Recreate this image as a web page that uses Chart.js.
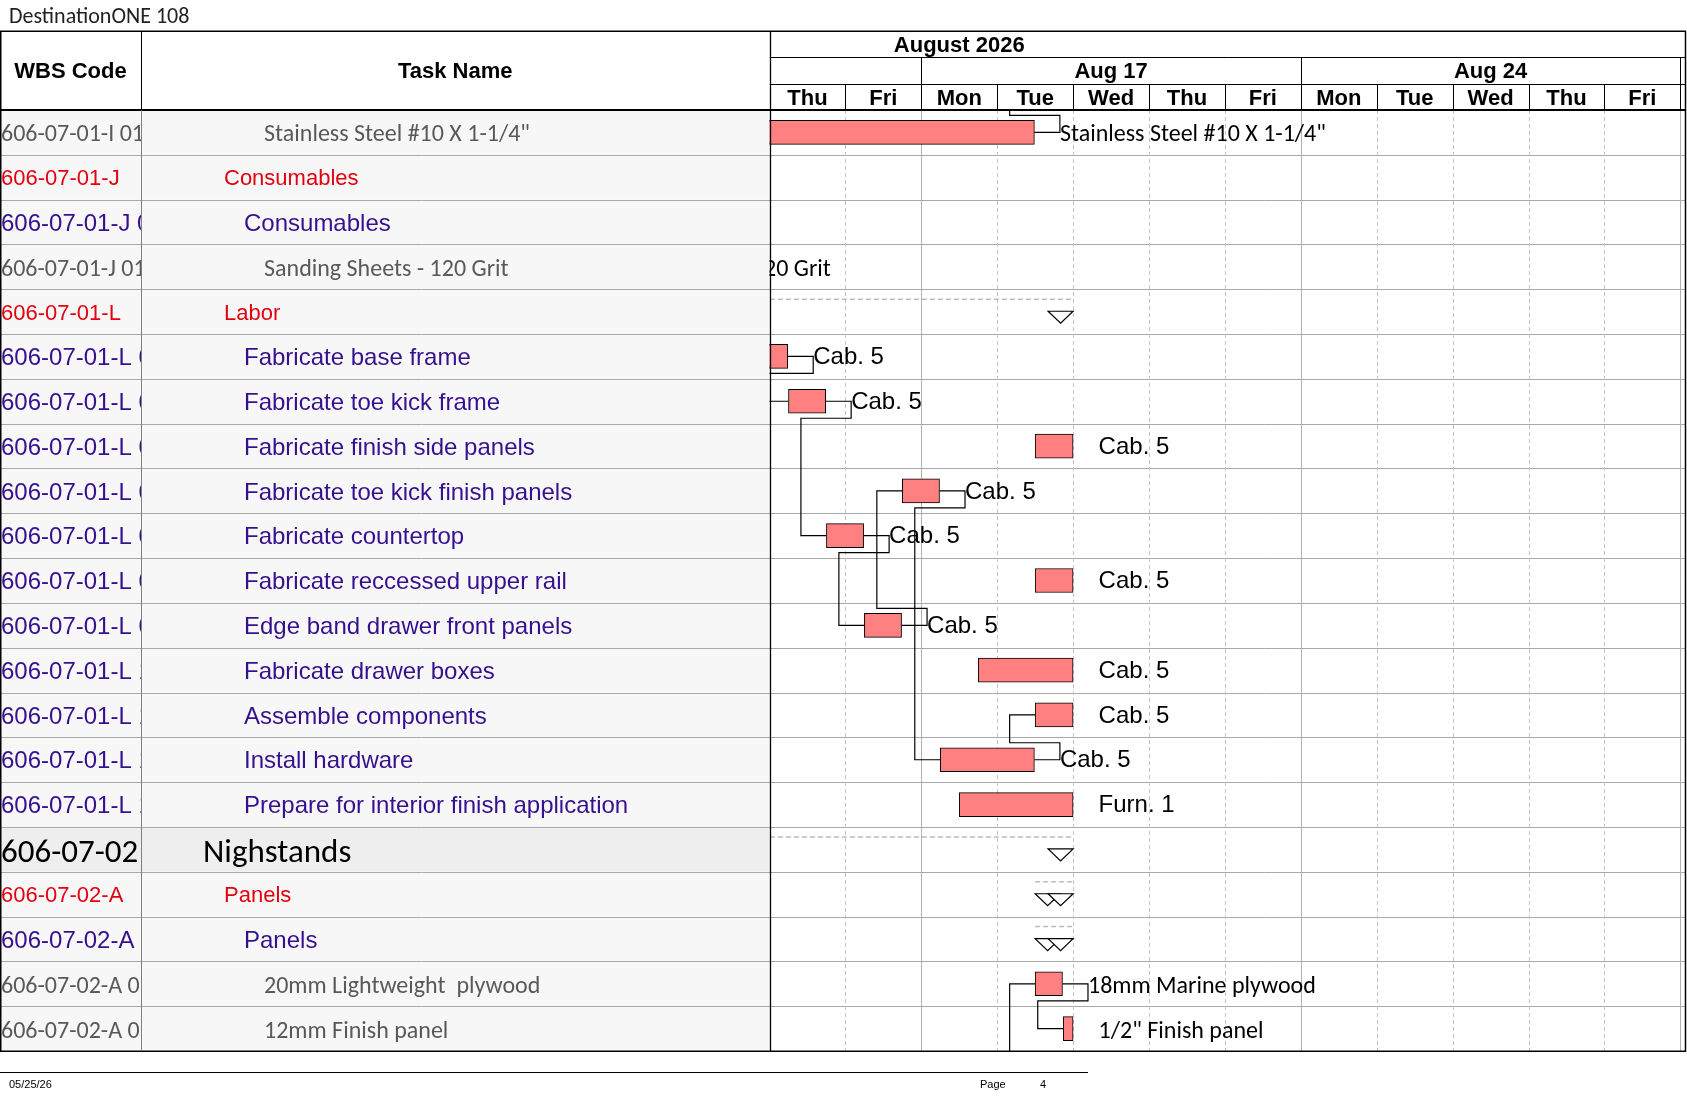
<!DOCTYPE html>
<html lang="en">
<head>
<meta charset="UTF-8">
<title>DestinationONE 108</title>
<script src="https://cdn.jsdelivr.net/npm/chart.js@4.4.1/dist/chart.umd.min.js"></script>
<style>
  html, body { margin: 0; padding: 0; background: #fff; }
  canvas { display: block; }
</style>
</head>
<body>
<canvas id="gantt" width="1687" height="1097"></canvas>
<script>
// ---- data ----
const wbsCodes = [
  '606-07-01-I 0101', '606-07-01-J', '606-07-01-J 01', '606-07-01-J 0101', '606-07-01-L',
  '606-07-01-L 03', '606-07-01-L 04', '606-07-01-L 05', '606-07-01-L 06', '606-07-01-L 07',
  '606-07-01-L 08', '606-07-01-L 09', '606-07-01-L 10', '606-07-01-L 11', '606-07-01-L 12',
  '606-07-01-L 13', '606-07-02', '606-07-02-A', '606-07-02-A 01', '606-07-02-A 0101',
  '606-07-02-A 0102'
];
const taskNames = [
  'Stainless Steel #10 X 1-1/4"', 'Consumables', 'Consumables', 'Sanding Sheets - 120 Grit', 'Labor',
  'Fabricate base frame', 'Fabricate toe kick frame', 'Fabricate finish side panels',
  'Fabricate toe kick finish panels', 'Fabricate countertop', 'Fabricate reccessed upper rail',
  'Edge band drawer front panels', 'Fabricate drawer boxes', 'Assemble components',
  'Install hardware', 'Prepare for interior finish application', 'Nighstands', 'Panels', 'Panels',
  '20mm Lightweight  plywood', '12mm Finish panel'
];
// item = material line, sum1 / sum2 = summary levels, task = labour task, group = top level
const rowKind = [
  'item', 'sum1', 'sum2', 'item', 'sum1',
  'task', 'task', 'task', 'task', 'task', 'task', 'task', 'task', 'task', 'task', 'task',
  'group', 'sum1', 'sum2', 'item', 'item'
];
// working days from Thu Aug 13 2026 (0 = Thu start, weekends skipped)
const taskStart = [-1.5, null, null, -3.5, -4, -0.25, 0.25, 3.5, 1.75, 0.75, 3.5, 1.25, 2.75, 3.5, 2.25, 2.5, -4, 3.5, 3.5, 3.5, 3.87];
const taskEnd   = [3.49, null, null, -2.75, 4, 0.24, 0.74, 4, 2.24, 1.24, 4, 1.74, 4, 4, 3.49, 4, 4, 4, 4, 3.86, 4];
const barLabels = [
  'Stainless Steel #10 X 1-1/4"', '', '', 'Sanding Sheets - 120 Grit', '',
  'Cab. 5', 'Cab. 5', 'Cab. 5', 'Cab. 5', 'Cab. 5', 'Cab. 5', 'Cab. 5', 'Cab. 5', 'Cab. 5', 'Cab. 5',
  'Furn. 1', '', '', '', '18mm Marine plywood', '1/2" Finish panel'
];
// tasks on the neighbouring pages that links run to
const offPageRow   = [-1, 21];
const offPageStart = [3.5, 2.5];
const offPageEnd   = [4, 3];
// links: [predecessor row, successor row]
const links = [[0, -1], [5, 6], [6, 9], [9, 11], [11, 8], [8, 14], [14, 13], [19, 20], [21, 19]];

const monthLabels = ['August 2026'];
const weekLabels = ['Aug 10', 'Aug 17', 'Aug 24', 'Aug 31'];
const dayLabels = ['Thu', 'Fri', 'Mon', 'Tue', 'Wed', 'Thu', 'Fri', 'Mon', 'Tue', 'Wed', 'Thu', 'Fri', 'Mon'];

// ---- look ----
const ARIAL = '"Liberation Sans", Arial, sans-serif';
const CALIBRI = 'Carlito, Lato, sans-serif';
const styles = {
  item:  { font: '24px ' + CALIBRI, color: '#595959', indent: 264, dy: 3 },
  sum1:  { font: '22px ' + ARIAL,   color: '#e3000f', indent: 224, dy: 2 },
  sum2:  { font: '24px ' + ARIAL,   color: '#36108e', indent: 244, dy: 2 },
  task:  { font: '24px ' + ARIAL,   color: '#36108e', indent: 244, dy: 2 },
  group: { font: '33px ' + CALIBRI, color: '#000000', indent: 203, dy: 4 }
};
const COL1 = 141, TOP = 31, HEAD = 110;
const GAP = 25.5; // distance from bar end to label / link bend

function startOf(r) { const k = offPageRow.indexOf(r); return k >= 0 ? offPageStart[k] : taskStart[r]; }
function endOf(r) { const k = offPageRow.indexOf(r); return k >= 0 ? offPageEnd[k] : taskEnd[r]; }
function isBar(r) { return rowKind[r] === 'item' || rowKind[r] === 'task'; }

const barData = taskStart.map((s, i) => (s === null || !isBar(i)) ? null : [s, taskEnd[i]]);

function rowInfo(chart) {
  const a = chart.chartArea;
  const h = (a.bottom - a.top) / wbsCodes.length;
  return { h, center: i => chart.scales.y.getPixelForValue(i), top: i => chart.scales.y.getPixelForValue(i) - h / 2 };
}

const ganttPlugin = {
  id: 'gantt',
  beforeDraw(chart) {
    const ctx = chart.ctx, a = chart.chartArea, R = rowInfo(chart);
    ctx.save();
    ctx.fillStyle = '#fff';
    ctx.fillRect(0, 0, chart.width, chart.height);
    for (let i = 0; i < wbsCodes.length; i++) {
      ctx.fillStyle = rowKind[i] === 'group' ? '#eeeeee' : '#f7f7f7';
      ctx.fillRect(0, R.top(i), a.left, R.h);
    }
    ctx.restore();
  },
  beforeDatasetsDraw(chart) {
    const ctx = chart.ctx, a = chart.chartArea, x = chart.scales.x, R = rowInfo(chart);
    ctx.save();
    // row lines
    ctx.strokeStyle = '#a8a8a8';
    ctx.lineWidth = 1;
    for (let i = 1; i < wbsCodes.length; i++) {
      const y = Math.round(R.top(i)) + 0.5;
      ctx.beginPath(); ctx.moveTo(0, y); ctx.lineTo(a.right, y); ctx.stroke();
    }
    // day lines, solid at each Monday
    for (let d = 1; d < dayLabels.length; d++) {
      const px = Math.round(x.getPixelForValue(d)) + 0.5;
      ctx.beginPath();
      if (dayLabels[d] === 'Mon') { ctx.setLineDash([]); ctx.strokeStyle = '#b0b0b0'; }
      else { ctx.setLineDash([4, 3]); ctx.strokeStyle = '#c4c4c4'; }
      ctx.moveTo(px, a.top); ctx.lineTo(px, a.bottom); ctx.stroke();
    }
    ctx.setLineDash([]);

    ctx.beginPath();
    ctx.rect(a.left, a.top, a.right - a.left, a.bottom - a.top);
    ctx.clip();

    // summary spans
    for (let i = 0; i < wbsCodes.length; i++) {
      if (isBar(i) || taskStart[i] === null) continue;
      const xs = x.getPixelForValue(taskStart[i]), xe = x.getPixelForValue(taskEnd[i]);
      const t = R.top(i);
      ctx.setLineDash([5, 3]);
      ctx.strokeStyle = '#bcbcbc';
      ctx.lineWidth = 1.5;
      ctx.beginPath(); ctx.moveTo(xs, t + 10); ctx.lineTo(xe, t + 10); ctx.stroke();
      ctx.setLineDash([]);
      ctx.strokeStyle = '#000';
      ctx.lineWidth = 1.2;
      ctx.fillStyle = '#fff';
      [[xs, xs + 25], [xe - 25, xe]].forEach(([l, r]) => {
        ctx.beginPath();
        ctx.moveTo(l, t + 22); ctx.lineTo(r, t + 22); ctx.lineTo((l + r) / 2, t + 34); ctx.closePath();
        ctx.fill(); ctx.stroke();
      });
    }

    // links
    ctx.strokeStyle = '#000';
    ctx.lineWidth = 1.2;
    links.forEach(([p, s]) => {
      const xe = x.getPixelForValue(endOf(p)), yp = R.center(p);
      const xs = x.getPixelForValue(startOf(s)), ys = R.center(s);
      const ym = yp + (ys > yp ? 17 : -17);
      ctx.beginPath();
      ctx.moveTo(xe, yp);
      ctx.lineTo(xe + GAP, yp);
      ctx.lineTo(xe + GAP, ym);
      ctx.lineTo(xs - GAP, ym);
      ctx.lineTo(xs - GAP, ys);
      ctx.lineTo(xs, ys);
      ctx.stroke();
    });
    ctx.restore();
  },
  afterDatasetsDraw(chart) {
    const ctx = chart.ctx, a = chart.chartArea, x = chart.scales.x, R = rowInfo(chart);
    ctx.save();
    ctx.beginPath();
    ctx.rect(a.left, a.top, a.right - a.left, a.bottom - a.top);
    ctx.clip();
    ctx.textBaseline = 'middle';
    ctx.textAlign = 'left';
    ctx.fillStyle = '#000';
    barLabels.forEach((lab, i) => {
      if (!lab) return;
      const lato = rowKind[i] === 'item';
      ctx.font = lato ? '24px ' + CALIBRI : '24px ' + ARIAL;
      ctx.fillText(lab, x.getPixelForValue(taskEnd[i]) + GAP, R.center(i) + (lato ? 3 : 1));
    });
    ctx.restore();
  },
  afterDraw(chart) {
    const ctx = chart.ctx, a = chart.chartArea, x = chart.scales.x, R = rowInfo(chart);
    ctx.save();
    ctx.textBaseline = 'middle';

    // table text
    for (let i = 0; i < wbsCodes.length; i++) {
      const st = styles[rowKind[i]], yc = R.center(i) + st.dy;
      ctx.font = st.font;
      ctx.fillStyle = st.color;
      ctx.textAlign = 'left';
      ctx.save();
      ctx.beginPath(); ctx.rect(0, R.top(i), COL1, R.h); ctx.clip();
      ctx.fillText(wbsCodes[i], 1, yc);
      ctx.restore();
      ctx.save();
      ctx.beginPath(); ctx.rect(COL1, R.top(i), a.left - COL1, R.h); ctx.clip();
      ctx.fillText(taskNames[i], st.indent, yc);
      ctx.restore();
    }

    // header
    ctx.fillStyle = '#000';
    ctx.textAlign = 'center';
    ctx.font = 'bold 22px ' + ARIAL;
    ctx.fillText('WBS Code', COL1 / 2, 72);
    ctx.fillText('Task Name', (COL1 + a.left) / 2, 72);

    ctx.save();
    ctx.beginPath(); ctx.rect(a.left, TOP, a.right - a.left, HEAD - TOP); ctx.clip();
    // August 2026 spans working days Aug 3 .. Aug 31 = days -8 .. 13
    ctx.fillText(monthLabels[0], x.getPixelForValue((-8 + 13) / 2), 46);
    const firstMon = -['Mon', 'Tue', 'Wed', 'Thu', 'Fri'].indexOf(dayLabels[0]);
    weekLabels.forEach((w, k) => {
      const s = firstMon + 5 * k;
      if (s < 0) return; // partial week at the left edge has no caption
      ctx.fillText(w, x.getPixelForValue(s + 2.5), 72);
    });
    dayLabels.forEach((d, k) => ctx.fillText(d, x.getPixelForValue(k + 0.5), 99));

    ctx.strokeStyle = '#000';
    ctx.lineWidth = 1;
    [57.5, 84.5].forEach(y => { ctx.beginPath(); ctx.moveTo(a.left, y); ctx.lineTo(a.right, y); ctx.stroke(); });
    for (let d = 1; d < dayLabels.length; d++) {
      const px = Math.round(x.getPixelForValue(d)) + 0.5;
      ctx.beginPath();
      ctx.moveTo(px, dayLabels[d] === 'Mon' ? 57.5 : 84.5);
      ctx.lineTo(px, HEAD);
      ctx.stroke();
    }
    ctx.restore();

    // frame
    ctx.strokeStyle = '#000';
    ctx.lineWidth = 1.5;
    ctx.strokeRect(0.75, TOP + 0.25, a.right - 1.25, a.bottom - TOP);
    ctx.lineWidth = 2;
    ctx.beginPath(); ctx.moveTo(0, HEAD); ctx.lineTo(a.right, HEAD); ctx.stroke();
    ctx.lineWidth = 1.3;
    ctx.beginPath(); ctx.moveTo(Math.round(a.left) + 0.5, TOP); ctx.lineTo(Math.round(a.left) + 0.5, a.bottom); ctx.stroke();
    ctx.lineWidth = 1;
    ctx.beginPath(); ctx.moveTo(COL1 + 0.5, TOP); ctx.lineTo(COL1 + 0.5, HEAD); ctx.stroke();
    ctx.strokeStyle = '#808080';
    ctx.beginPath(); ctx.moveTo(COL1 + 0.5, HEAD); ctx.lineTo(COL1 + 0.5, a.bottom); ctx.stroke();

    // page title and footer
    ctx.fillStyle = '#222';
    ctx.textAlign = 'left';
    ctx.font = '22px ' + CALIBRI;
    ctx.fillText('DestinationONE 108', 9, 17);
    ctx.strokeStyle = '#000';
    ctx.beginPath(); ctx.moveTo(0, 1072.5); ctx.lineTo(1088, 1072.5); ctx.stroke();
    ctx.fillStyle = '#000';
    ctx.font = '11px ' + ARIAL;
    ctx.fillText('05/25/26', 9, 1085);
    ctx.fillText('Page', 980, 1085);
    ctx.fillText('4', 1040, 1085);
    ctx.restore();
  }
};

new Chart(document.getElementById('gantt'), {
  type: 'bar',
  data: {
    labels: taskNames,
    datasets: [{
      data: barData,
      backgroundColor: '#ff8080',
      borderColor: '#000',
      borderWidth: 1,
      borderSkipped: false,
      barThickness: 24,
      grouped: false
    }]
  },
  options: {
    indexAxis: 'y',
    responsive: false,
    animation: false,
    devicePixelRatio: 1,
    layout: { padding: { left: 769.5, right: 1, top: 110, bottom: 46 } },
    scales: {
      x: { type: 'linear', min: 0, max: 12.075, display: false },
      y: { display: false }
    },
    plugins: { legend: { display: false }, tooltip: { enabled: false } }
  },
  plugins: [ganttPlugin]
});
</script>
</body>
</html>
